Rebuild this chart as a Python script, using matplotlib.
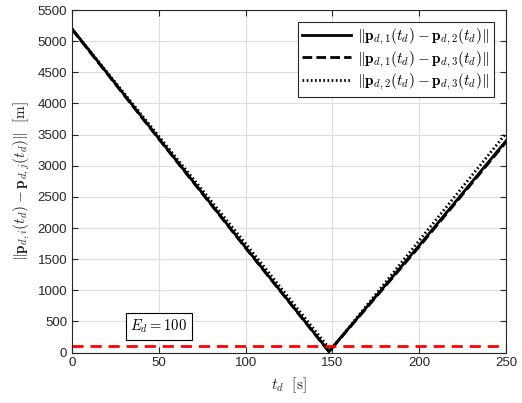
import matplotlib
matplotlib.use('Agg')
import matplotlib.pyplot as plt

plt.rcParams['font.family'] = ['Liberation Sans', 'DejaVu Sans']
plt.rcParams['mathtext.fontset'] = 'cm'

# values
t_12 = [0, 50, 100, 148, 200, 250]
d_12 = [5200, 3440, 1690, 20, 1720, 3400]
t_13 = [0, 50, 100, 148, 200, 250]
d_13 = [5190, 3430, 1680, 15, 1700, 3380]
t_23 = [0, 50, 100, 149, 200, 250]
d_23 = [5200, 3475, 1750, 40, 1800, 3520]
E_d = 100

fig = plt.figure(figsize=(5.22, 4.03), dpi=100)
ax = fig.add_axes([72/522, 0.125, 434/522, 0.85])

ax.plot(t_12, d_12, 'k-', lw=2, label=r'$\|\mathbf{p}_{d,1}(t_d)-\mathbf{p}_{d,2}(t_d)\|$')
ax.plot(t_13, d_13, 'k', ls=(0, (3.5, 1.5)), lw=2, label=r'$\|\mathbf{p}_{d,1}(t_d)-\mathbf{p}_{d,3}(t_d)\|$')
ax.plot(t_23, d_23, 'k', ls=(0, (0.6, 0.9)), lw=2, label=r'$\|\mathbf{p}_{d,2}(t_d)-\mathbf{p}_{d,3}(t_d)\|$')
ax.axhline(E_d, color='red', ls=(0, (4, 2.5)), lw=2)

ax.text(50, 420, r'$E_d = 100$', fontsize=10.5, ha='center', va='center',
        bbox=dict(boxstyle='square,pad=0.3', fc='white', ec='black', lw=0.8))

ax.set_xlim(0, 250)
ax.set_ylim(0, 5500)
ax.set_xticks(range(0, 251, 50))
ax.set_yticks(range(0, 5501, 500))
ax.grid(True, color='#dedede', lw=0.8)
ax.set_axisbelow(True)
ax.tick_params(direction='in', top=True, right=True, labelsize=9.5, colors='#262626', length=4)
for s in ax.spines.values():
    s.set_color('#262626')
    s.set_linewidth(0.8)

ax.set_xlabel(r'$t_d\ \ [\mathrm{s}]$', fontsize=11, color='#262626')
ax.set_ylabel(r'$\|\mathbf{p}_{d,i}(t_d)-\mathbf{p}_{d,j}(t_d)\|\ \ [\mathrm{m}]$', fontsize=11, color='#262626')

leg = ax.legend(loc='upper right', fontsize=11, fancybox=False, framealpha=1,
                edgecolor='#262626', handlelength=3.2, borderpad=0.3,
                labelspacing=0.15, handletextpad=0.4, borderaxespad=0.8)
leg.get_frame().set_linewidth(0.8)

fig.savefig('out.png', dpi=100)
